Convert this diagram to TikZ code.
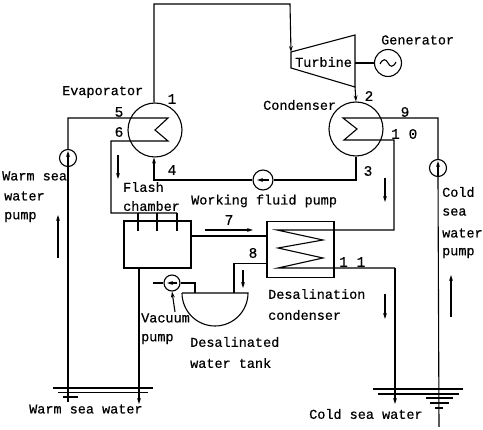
\documentclass[tikz,border=0pt]{standalone}
\usepackage{fontspec}
\setmainfont[FakeBold=0.4]{Liberation Mono}
\usetikzlibrary{arrows.meta}
\tikzset{
  pipe/.style={line width=1.1pt,line join=miter},
  flow/.style={pipe,-{Stealth[length=6pt,width=3.8pt]}},
  lbl/.style={inner sep=0pt,anchor=west,font=\fontsize{13.5}{14}\selectfont\addfontfeature{FakeBold=0.5}},
  num/.style={inner sep=0pt,font=\fontsize{14.5}{15}\selectfont},
  vessel/.style={circle,draw,line width=1.1pt,minimum size=54pt,inner sep=0pt},
  pumpc/.style={circle,draw,line width=1.1pt,fill=white,minimum size=17pt,inner sep=0pt},
  box/.style={rectangle,draw,line width=1.1pt,inner sep=0pt},
}
\begin{document}
\begin{tikzpicture}[x=1pt,y=-1pt]
\useasboundingbox (0,0) rectangle (483,430);
% main vessels
\node[vessel] (evap) at (155,130) {};
\node[vessel] (cond) at (356,129) {};
\node[circle,draw,line width=1.1pt,minimum size=27pt,inner sep=0pt] (gen) at (388,63) {};
\node[box,minimum width=67pt,minimum height=47pt] (flash) at (157.5,244.5) {};
\node[box,minimum width=67pt,minimum height=56pt] (dcond) at (300.5,249.5) {};
% turbine
\coordinate (tTL) at (291,52);
\coordinate (tTR) at (355,35);
\coordinate (tBR) at (355,87);
\coordinate (tBL) at (291,68);
\draw[pipe] (tTL) -- (tTR) -- (tBR) -- (tBL) -- cycle;
\coordinate (tOut) at (355,63);
\draw[pipe] (tOut) -- (gen.west);
\coordinate (gs) at (380,64);
\coordinate (ge) at (396,62);
\draw[pipe] (gs) .. controls +(3,-6) and +(-2,-4) .. (gen.center) .. controls +(2,4) and +(-3,6) .. (ge);
% working fluid
\coordinate (c1) at (154,4);
\coordinate (c2) at (290,4);
\draw[flow] (evap.north -| c1) -- (c1) -- (c2) -- (tTL);
\draw[flow] (tBR) -- (cond.north);
\node[pumpc,minimum size=20pt] (wfp) at (263,180) {};
\coordinate (c3) at (356,180);
\coordinate (c4) at (154,180);
\draw[pipe] (cond.south) -- (c3) -- (wfp);
\draw[flow] (wfp) -- (c4) -- (evap.south -| c4);
\draw[flow] ([xshift=6pt]wfp.center) -- ([xshift=-6pt]wfp.center);
% warm sea water
\node[pumpc] (wp) at (68,158) {};
\coordinate (w1) at (68,402);
\coordinate (w2) at (68,118);
\coordinate (e1) at (168,118);
\coordinate (e2) at (155,130);
\coordinate (e3) at (168,141);
\coordinate (e4) at (111,141);
\coordinate (e5) at (111,213);
\coordinate (e6) at (177,213);
\draw[pipe] (wp.north) -- (w2) -- (e1) -- (e2) -- (e3) -- (e4) -- (e5) -- (e6);
\draw[pipe] (wp.south) -- (w1);
\draw[flow] (wp.south) -- ([yshift=7pt]wp.center);
\foreach \x/\n in {138/a,157/b,177/c}{
  \coordinate (fd\n) at (\x,213);
  \coordinate (fe\n) at (\x,231);
  \draw[pipe] (fd\n) -- (fe\n);
}
\coordinate (fout) at (139,404);
\draw[flow] (flash.south -| fout) -- (fout);
\draw[pipe] (flash.east |- 0,236) -- (dcond.west |- 0,236);
% cold sea water
\node[pumpc] (cp) at (438,168) {};
\coordinate (k1) at (439,427);
\coordinate (k2) at (438,118);
\coordinate (q1) at (343,118);
\coordinate (q2) at (357,129);
\coordinate (q3) at (344,140);
\coordinate (q4) at (394,140);
\coordinate (q5) at (394,230);
\draw[pipe] (cp.north) -- (k2) -- (q1) -- (q2) -- (q3) -- (q4) -- (q5) -- (dcond.east |- q5);
\draw[pipe] (cp.south) -- (k1);
\draw[flow] (cp.south) -- ([yshift=7pt]cp.center);
% desalination condenser coil
\coordinate (d1) at (277,230);
\coordinate (d2) at (323,240);
\coordinate (d3) at (278,248);
\coordinate (d4) at (323,258);
\coordinate (d5) at (278,268);
\coordinate (d6) at (395,268);
\coordinate (d7) at (395,404);
\draw[pipe] (dcond.east |- d1) -- (d1) -- (d2) -- (d3) -- (d4) -- (d5) -- (d6);
\draw[flow] (d6) -- (d7);
% tank
\coordinate (tl) at (182,293);
\coordinate (tr) at (248,293);
\coordinate (t8) at (234,263.5);
\coordinate (t9) at (234,293);
\draw[pipe] (tl) -- (tr) arc[start angle=0,end angle=180,radius=33];
\draw[pipe] (dcond.west |- t8) -- (t8) -- (t9);
% vacuum pump
\node[pumpc,minimum size=16pt] (vp) at (172,283) {};
\coordinate (v1) at (153,283);
\coordinate (v2) at (195,283);
\coordinate (v3) at (195,293);
\coordinate (v4) at (175,312);
\draw[pipe] (v1) -- (vp) -- (v2) -- (v3);
\draw[flow] (v4) -- (vp.south);
\draw[flow] ([xshift=5pt]vp.center) -- ([xshift=-5pt]vp.center);
% flow arrows
\coordinate (a1s) at (118,155); \coordinate (a1e) at (118,179);
\coordinate (a2s) at (58,258);  \coordinate (a2e) at (58,215);
\coordinate (a3s) at (385,178); \coordinate (a3e) at (385,202);
\coordinate (a4s) at (385,294); \coordinate (a4e) at (385,319);
\coordinate (a5s) at (451,317); \coordinate (a5e) at (451,275);
\coordinate (a6s) at (205,230); \coordinate (a6e) at (253,230);
\coordinate (a7s) at (243,270); \coordinate (a7e) at (243,288);
\foreach \n in {1,...,7}{\draw[flow] (a\n s) -- (a\n e);}
% water levels
\foreach \n/\a/\b/\y in {a/53/153/388,b/58/148/392.5,c/63/78/397,d/373/463/389,e/378/459/394,f/426/453/398,g/430/449/403,h/435/443/408}{
  \coordinate (ls\n) at (\a,\y);
  \coordinate (le\n) at (\b,\y);
  \draw[pipe] (ls\n) -- (le\n);
}
% labels
\node[lbl] (tEvap) at (62,92) {Evaporator};
\node[lbl] (tTurb) at (295,62) {Turbine};
\node[lbl] (tGen) at (381,40) {Generator};
\node[lbl] (tCond) at (263,105) {Condenser};
\node[lbl] (tWs) at (2,176) {Warm sea};
\node[lbl] (tWw) at (4,196) {water};
\node[lbl] (tWp) at (4,217) {pump};
\node[lbl] (tFl) at (123,187) {Flash};
\node[lbl] (tCh) at (123,206) {chamber};
\node[lbl] (tWf) at (191,201) {Working fluid pump};
\node[lbl] (tCs) at (442,192) {Cold};
\node[lbl] (tSe) at (442,212) {sea};
\node[lbl] (tWa) at (442,233) {water};
\node[lbl] (tPu) at (442,253) {pump};
\node[lbl] (tDc) at (268,294) {Desalination};
\node[lbl] (tDn) at (268,315) {condenser};
\node[lbl] (tVa) at (141,318) {Vacuum};
\node[lbl] (tVp) at (141,339) {pump};
\node[lbl] (tDe) at (190,342) {Desalinated};
\node[lbl] (tWt) at (190,363) {water tank};
\node[lbl] (tWsw) at (29,409) {Warm sea water};
\node[lbl] (tCsw) at (309,414) {Cold sea water};
\node[num] (n1) at (172,99) {1};
\node[num] (n2) at (369,96) {2};
\node[num] (n3) at (368,171) {3};
\node[num] (n4) at (172,170) {4};
\node[num] (n5) at (119,112) {5};
\node[num] (n6) at (119,132) {6};
\node[num] (n7) at (229,220) {7};
\node[num] (n8) at (253,253) {8};
\node[num] (n9) at (405,112) {9};
\node[num,anchor=west] (n10) at (391,134) {1 0};
\node[num,anchor=west] (n11) at (339,262) {1 1};
\end{tikzpicture}
\end{document}
